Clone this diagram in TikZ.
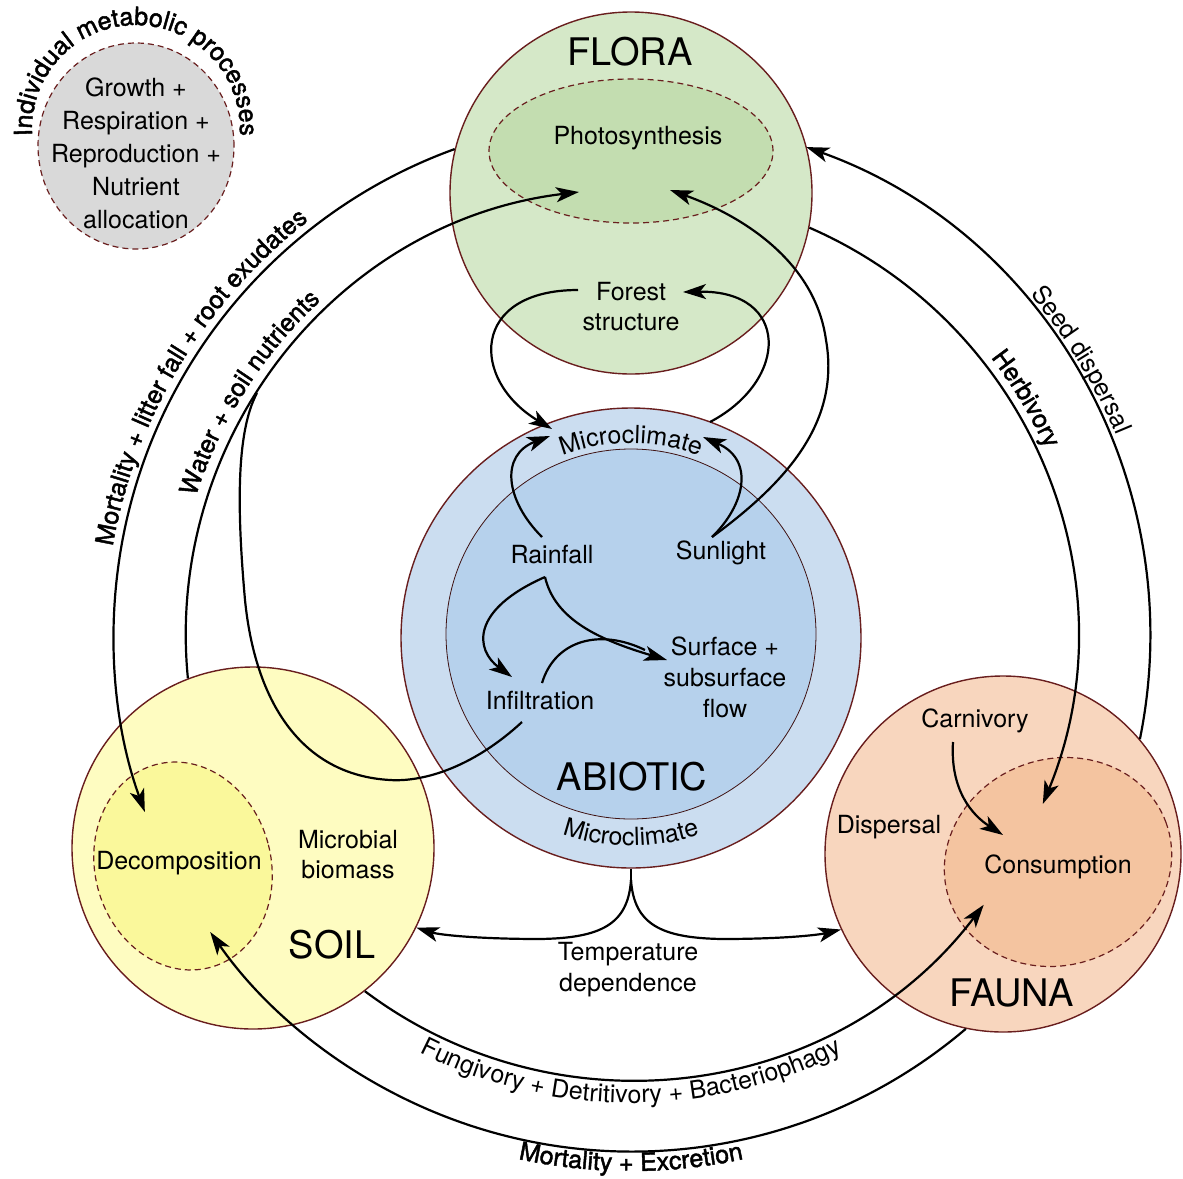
\documentclass[tikz,border=0pt]{standalone}
\usepackage{fontspec}
\setmainfont{TeX Gyre Heros}
\newfontfamily\heavyfont[FakeBold=1.8]{TeX Gyre Heros}
\usetikzlibrary{arrows.meta,calc,shapes.geometric,decorations.text}

\definecolor{rimred}{RGB}{105,30,30}
\definecolor{florafill}{RGB}{213,232,200}
\definecolor{photofill}{RGB}{195,221,176}
\definecolor{abioout}{RGB}{203,221,240}
\definecolor{abioin}{RGB}{182,209,236}
\definecolor{soilfill}{RGB}{254,252,193}
\definecolor{decofill}{RGB}{250,248,155}
\definecolor{faunafill}{RGB}{248,214,190}
\definecolor{consfill}{RGB}{244,196,160}
\definecolor{metafill}{RGB}{217,217,217}

\newcommand{\txt}{\fontsize{25}{31}\selectfont}
\newcommand{\headtxt}{\fontsize{38}{44}\selectfont}
\newcommand{\heavytxt}{\heavyfont\fontsize{25}{31}\selectfont}

\begin{document}
\begin{tikzpicture}[x=1pt,y=1pt,
    every node/.style={font=\txt, align=center, inner sep=0pt},
    blob/.style={circle, draw=rimred, line width=1.4pt},
    core/.style={ellipse, draw=rimred, line width=1.2pt, dash pattern=on 6pt off 4pt},
    link/.style={line width=2.2pt, -{Stealth[length=23pt, width=15pt, inset=6pt]}},
    plain/.style={line width=2.2pt},
    arclabel/.style={decorate, decoration={text along path, text align=center, text={#1}}}]
	\useasboundingbox (0,0) rectangle (1183,-1178);
	\coordinate (O) at (631,-636);

	% individual metabolic processes
	\node[core, fill=metafill, minimum width=196pt, minimum height=206pt] (meta) at (136,-146) {};
	\node[font=\fontsize{25}{33}\selectfont] (metatext) at (136,-153) {Growth +\\Respiration +\\Reproduction +\\Nutrient\\allocation};
	\path[arclabel={|\heavytxt|Individual metabolic processes}] (136,-129) ++(192:104) arc[start angle=192, end angle=-12, radius=104];

	% compartments
	\node[blob, fill=florafill, minimum size=362pt] (flora) at (631,-193) {};
	\node[core, fill=photofill, minimum width=284pt, minimum height=144pt] (photo) at (631,-151) {};
	\node[blob, fill=abioout, minimum size=460pt] (abiotic) at (631,-638) {};
	\node[circle, draw=rimred!60!black, line width=0.8pt, fill=abioin, minimum size=370pt] (abioin) at (631,-634) {};
	\node[blob, fill=soilfill, minimum size=362pt] (soil) at (253,-848) {};
	\node[core, fill=decofill, minimum width=176pt, minimum height=210pt, rotate=15] (deco) at (183,-866) {};
	\node[blob, fill=faunafill, minimum size=356pt] (fauna) at (1003,-854) {};
	\node[core, fill=consfill, minimum width=230pt, minimum height=206pt, rotate=20] (cons) at (1058,-862) {};

	% labels
	\node[font=\headtxt] (floralabel) at (630,-52) {FLORA};
	\node (photolabel) at (638,-138) {Photosynthesis};
	\node[font=\fontsize{25}{30}\selectfont] (forest) at (631,-307) {Forest\\structure};
	\node[font=\headtxt] (abioticlabel) at (632,-777) {ABIOTIC};
	\node (rain) at (552,-555) {Rainfall};
	\node (sun) at (721,-553) {Sunlight};
	\node (infil) at (540,-701) {Infiltration};
	\node (flow) at (725,-677) {Surface +\\subsurface\\flow};
	\node (temp) at (628,-970) {Temperature\\dependence};
	\node[font=\fontsize{25}{30}\selectfont] (microbe) at (348,-855) {Microbial\\biomass};
	\node[font=\headtxt] (soillabel) at (332,-945) {SOIL};
	\node (decolabel) at (179,-863) {Decomposition};
	\node (carni) at (975,-721) {Carnivory};
	\node (dispersal) at (889,-827) {Dispersal};
	\node (conslabel) at (1058,-867) {Consumption};
	\node[font=\headtxt] (faunalabel) at (1012,-993) {FAUNA};

	% ring arcs between compartments
	\draw[link] (flora.166) arc[start angle=109.9, end angle=200, radius=517];
	\draw[link] (fauna.40) arc[start angle=-11.5, end angle=70.3, radius=519];
	\draw[link] (flora.349) arc[start angle=66.5, end angle=-22.4, radius=444];
	\draw[link] (soil.111) arc[start angle=185.6, end angle=96.8, radius=446];
	\draw[link] (soil.308) arc[start angle=-126.9, end angle=-37.2, radius=443];
	\draw[link] (fauna.258) arc[start angle=-49.6, end angle=-145, radius=515];

	% water from infiltration joins the nutrient arc
	\coordinate (infilB) at (522,-722);
	\draw[plain] (infilB) .. controls (470,-770) and (420,-782) .. (390,-780) .. controls (300,-775) and (255,-700) .. (245,-600) .. controls (237,-510) and (236,-432) .. (257,-393);

	% loops round forest structure and microclimate
	\coordinate (forestL) at (578,-290);
	\coordinate (forestR) at (683,-292);
	\coordinate (microL) at (552,-429);
	\coordinate (microR) at (710,-422);
	\coordinate (microRin) at (703,-437);
	\coordinate (microLin) at (550,-436);
	\draw[link] (forestL) .. controls (470,-290) and (470,-380) .. (microL);
	\draw[link] (microR) .. controls (790,-380) and (790,-290) .. (forestR);

	% sunlight and rainfall
	\coordinate (sunT) at (712,-537);
	\coordinate (rainT) at (542,-537);
	\coordinate (rainB) at (545,-577);
	\coordinate (infilT) at (542,-683);
	\coordinate (flowW) at (667,-660);
	\coordinate (photoIn) at (670,-190);
	\draw[link] (sunT) .. controls (790,-480) and (840,-420) .. (826,-340) .. controls (815,-260) and (740,-215) .. (photoIn);
	\draw[link] (sunT) .. controls (745,-505) and (755,-460) .. (microRin);
	\draw[link] (rainT) .. controls (505,-500) and (500,-455) .. (microLin);
	\draw[link] (rainB) .. controls (470,-610) and (475,-650) .. (512,-677);
	\draw[link] (rainB) .. controls (555,-620) and (600,-640) .. (flowW);
	\draw[plain] (infilT) .. controls (555,-640) and (600,-628) .. (645,-650);

	% temperature dependence
	\coordinate (fork) at (631,-880);
	\draw[plain] (abiotic.south) -- (fork);
	\draw[link] (fork) .. controls (628,-925) and (600,-938) .. (540,-939) .. controls (480,-939) and (440,-935) .. (soil.334);
	\draw[link] (fork) .. controls (634,-925) and (662,-938) .. (722,-939) .. controls (782,-939) and (818,-935) .. (fauna.205);

	% carnivory
	\coordinate (carniB) at (953,-742);
	\draw[link] (carniB) .. controls (950,-790) and (972,-815) .. (1003,-835);

	% curved labels
	\path[arclabel={|\txt|Microclimate}] ($(O)+(118:193)$) arc[start angle=118, end angle=62, radius=193];
	\path[arclabel={|\txt|Microclimate}] ($(O)+(242:210)$) arc[start angle=242, end angle=298, radius=210];
	\path[arclabel={|\heavytxt|Mortality + litter fall + root exudates}] ($(O)+(176:526)$) arc[start angle=176, end angle=122, radius=526];
	\path[arclabel={|\heavytxt|Water + soil nutrients}] ($(O)+(166:457)$) arc[start angle=166, end angle=129, radius=457];
	\path[arclabel={|\heavytxt|Herbivory}] ($(O)+(46:455)$) arc[start angle=46, end angle=16, radius=455];
	\path[arclabel={|\txt|Seed dispersal}] ($(O)+(46:525)$) arc[start angle=46, end angle=17, radius=525];
	\path[arclabel={|\txt|Fungivory + Detritivory + Bacteriophagy}] ($(O)+(234:467)$) arc[start angle=234, end angle=306, radius=467];
	\path[arclabel={|\heavytxt|Mortality + Excretion}] ($(O)+(252:535)$) arc[start angle=252, end angle=288, radius=535];
\end{tikzpicture}
\end{document}
